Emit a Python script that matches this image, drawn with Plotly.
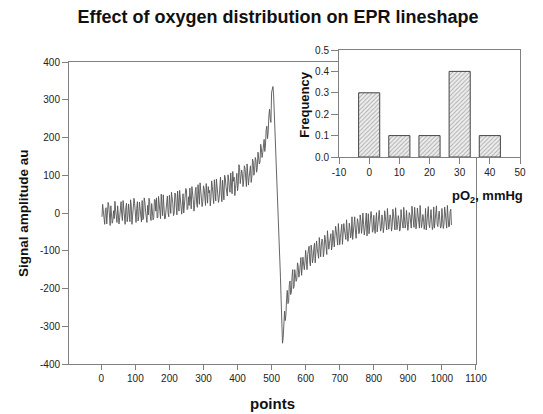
import plotly.graph_objects as go

# ---------------- data ----------------
points = list(range(2, 1030, 2))
signal = [
    -10, 23, 5, -24, -30, 9, 14, -29, -6, 28, 20, -11, -33, 19, 2, -27, -20, 6, -15, 31,
    8, -16, -25, 19, 2, -29, -12, 28, 30, -4, -20, 33, 10, -18, -30, 14, 26, -23, -8, 24,
    -20, -23, 35, 19, -30, -8, 0, 39, 25, -18, -25, 12, 30, -21, -10, 29, 15, -3, -24, 33,
    -18, -15, 40, 29, 5, -21, -25, 20, -5, 39, 30, -9, -20, 25, 2, -18, -12, 36, 35, 5,
    40, -13, -12, 44, 30, 5, -15, 50, 20, -7, 48, 25, -16, -14, 8, 39, 45, 1, -10, 47,
    10, -1, 55, 43, 25, -7, 0, 53, 50, 18, -5, 58, 40, 5, 60, 38, 15, -3, 20, 51,
    0, 18, 30, 65, 62, 9, 12, 43, 20, 66, 40, 11, 70, 55, 35, 5, 20, 59, 68, 26,
    15, 75, 50, 23, 80, 60, 40, 17, 30, 72, 65, 32, 20, 78, 45, 26, 70, 53, 60, 19,
    40, 85, 70, 47, 25, 88, 60, 32, 90, 73, 55, 28, 40, 80, 95, 50, 30, 87, 65, 35,
    100, 94, 70, 47, 45, 101, 90, 63, 55, 106, 80, 51, 110, 84, 95, 46, 65, 99, 105, 59,
    75, 128, 120, 78, 90, 114, 105, 70, 85, 125, 118, 92, 70, 130, 108, 74, 95, 117, 125, 81,
    95, 143, 135, 100, 110, 147, 140, 108, 120, 161, 150, 130, 135, 182, 170, 147, 160, 190, 195, 163,
    180, 220, 230, 197, 215, 257, 275, 250, 240, 320, 330, 335, 310, 265, 225, 178, 135, 92, 45, -2,
    -55, -110, -170, -230, -290, -345, -330, -295, -260, -285, -270, -227, -205, -240, -235, -190, -180, -216, -210, -168,
    -150, -200, -195, -150, -165, -181, -175, -132, -140, -170, -160, -123, -118, -165, -145, -117, -135, -150, -130, -99,
    -125, -150, -110, -96, -88, -130, -140, -85, -100, -132, -120, -93, -80, -132, -110, -74, -95, -106, -120, -65,
    -95, -116, -85, -69, -75, -116, -100, -59, -70, -92, -110, -47, -65, -96, -80, -63, -55, -98, -85, -46,
    -70, -90, -60, -35, -50, -75, -85, -28, -55, -84, -65, -45, -30, -83, -60, -28, -45, -67, -70, -18,
    -50, -75, -60, -27, -40, -66, -55, -10, -70, -47, -30, -10, -45, -67, -40, -15, -25, -55, -50, -5,
    -20, -54, -35, 0, -30, -58, -45, -17, 0, -61, -40, -2, -55, -40, -25, 4, -15, -51, -45, -6,
    -40, -54, -20, 1, -50, -33, -15, 7, -25, -48, -40, -5, -20, -52, -35, 6, -10, -37, -45, 12,
    -30, -43, -25, -5, -15, -48, -35, 10, -5, -37, -45, 14, -10, -44, -30, -7, -20, -48, -40, 9,
    -15, -32, -40, 15, -5, -40, -30, 7, -20, -46, -30, 1, -5, -37, -40, 18, -10, -25, -38, 15,
    -20, -42, -25, 13, -5, -31, -40, 20, -10, -39, -25, -4, -15, -43, -30, 12, -45, -27, -5, 17,
    -30, -39, -15, 9, -20, -44, -35, 16, -40, -21, 0, 19, -30, -36, -10, 5, -20, -40, -35, 12,
    -15, -41, -30, 16, 0, -28, -40, 20, -5, -37, -35, 4, 10, -32,
]
x_ticks = [0, 100, 200, 300, 400, 500, 600, 700, 800, 900, 1000, 1100]
y_ticks = [-400, -300, -200, -100, 0, 100, 200, 300, 400]
y_ticklabels = ["-400", "-300", "-200", "-100", "0", "100", "200", "300", "400"]

po2 = [0, 10, 20, 30, 40]
frequency = [0.3, 0.1, 0.1, 0.4, 0.1]
inset_x_ticks = [-10, 0, 10, 20, 30, 40, 50]
inset_x_ticklabels = ["-10", "0", "10", "20", "30", "40", "50"]
inset_y_ticks = [0, 0.1, 0.2, 0.3, 0.4, 0.5]
inset_y_ticklabels = ["0.0", "0.1", "0.2", "0.3", "0.4", "0.5"]

# ---------------- figure ----------------
FONT = "Liberation Sans, Arial, sans-serif"
AX = "#808080"
OFF = 8  # page body margin in the browser

fig = go.Figure()
fig.add_trace(go.Scatter(
    x=points, y=signal, mode="lines",
    line=dict(color="#555555", width=0.9),
    xaxis="x", yaxis="y", showlegend=False, hoverinfo="skip",
))
fig.add_trace(go.Bar(
    x=po2, y=frequency, width=7,
    marker=dict(
        color="#eeeeee",
        line=dict(color="#444444", width=1),
        pattern=dict(shape="/", fgcolor="#666666", bgcolor="#eeeeee",
                     size=3, solidity=0.3),
    ),
    xaxis="x2", yaxis="y2", showlegend=False,
))

axis_common = dict(
    showline=True, mirror=True, linecolor=AX, linewidth=1,
    ticks="outside", tickcolor=AX, tickwidth=1,
    showgrid=False, zeroline=False,
    tickfont=dict(family=FONT, size=10, color="#222222"),
)

fig.update_layout(
    width=543 - OFF, height=414 - OFF,
    margin=dict(l=69 - OFF, r=13, t=50 - OFF, b=50, pad=0),
    paper_bgcolor="white", plot_bgcolor="white",
    font=dict(family=FONT, color="#111111"),
    title=dict(
        text="<b>Effect of oxygen distribution on EPR lineshape</b>",
        font=dict(family=FONT, size=18, color="#111111"),
        xref="container", yref="container",
        x=(278 - OFF) / (543 - OFF), xanchor="center",
        y=1 - (17 - OFF) / (414 - OFF), yanchor="middle",
    ),
    xaxis=dict(domain=[0, 416 / 461], range=[-94.8, 1100],
               tickvals=x_ticks, ticklen=5, anchor="y", **axis_common),
    yaxis=dict(domain=[0, 302 / 314], range=[-400, 400],
               tickvals=y_ticks, ticktext=y_ticklabels, ticklen=6,
               anchor="x", **axis_common),
    xaxis2=dict(domain=[276 / 461, 1], range=[-10, 50],
                tickvals=inset_x_ticks, ticktext=inset_x_ticklabels,
                ticklen=6, anchor="y2", **axis_common),
    yaxis2=dict(domain=[207 / 314, 1], range=[0, 0.5],
                tickvals=inset_y_ticks, ticktext=inset_y_ticklabels,
                ticklen=7, anchor="x2", **axis_common),
    annotations=[
        dict(text="<b>Signal amplitude au</b>", textangle=-90,
             xref="paper", yref="paper", x=(22 - 69) / 461, y=(364 - 213) / 314,
             xanchor="center", yanchor="middle", showarrow=False,
             font=dict(family=FONT, size=13.5, color="#111111")),
        dict(text="<b>points</b>",
             xref="paper", yref="paper", x=(277 - 69) / 461, y=(364 - 403) / 314,
             xanchor="center", yanchor="middle", showarrow=False,
             font=dict(family=FONT, size=15, color="#111111")),
        dict(text="<b>Frequency</b>", textangle=-90,
             xref="paper", yref="paper", x=(310 - 69) / 461, y=(364 - 104) / 314,
             xanchor="center", yanchor="middle", showarrow=False,
             font=dict(family=FONT, size=13, color="#111111")),
        dict(text="<b>pO<sub>2</sub>, mmHg</b>",
             xref="paper", yref="paper", x=(458 - 69) / 461, y=(364 - 196) / 314,
             xanchor="left", yanchor="middle", showarrow=False,
             font=dict(family=FONT, size=13, color="#111111")),
    ],
)

fig.write_html("out.html")
